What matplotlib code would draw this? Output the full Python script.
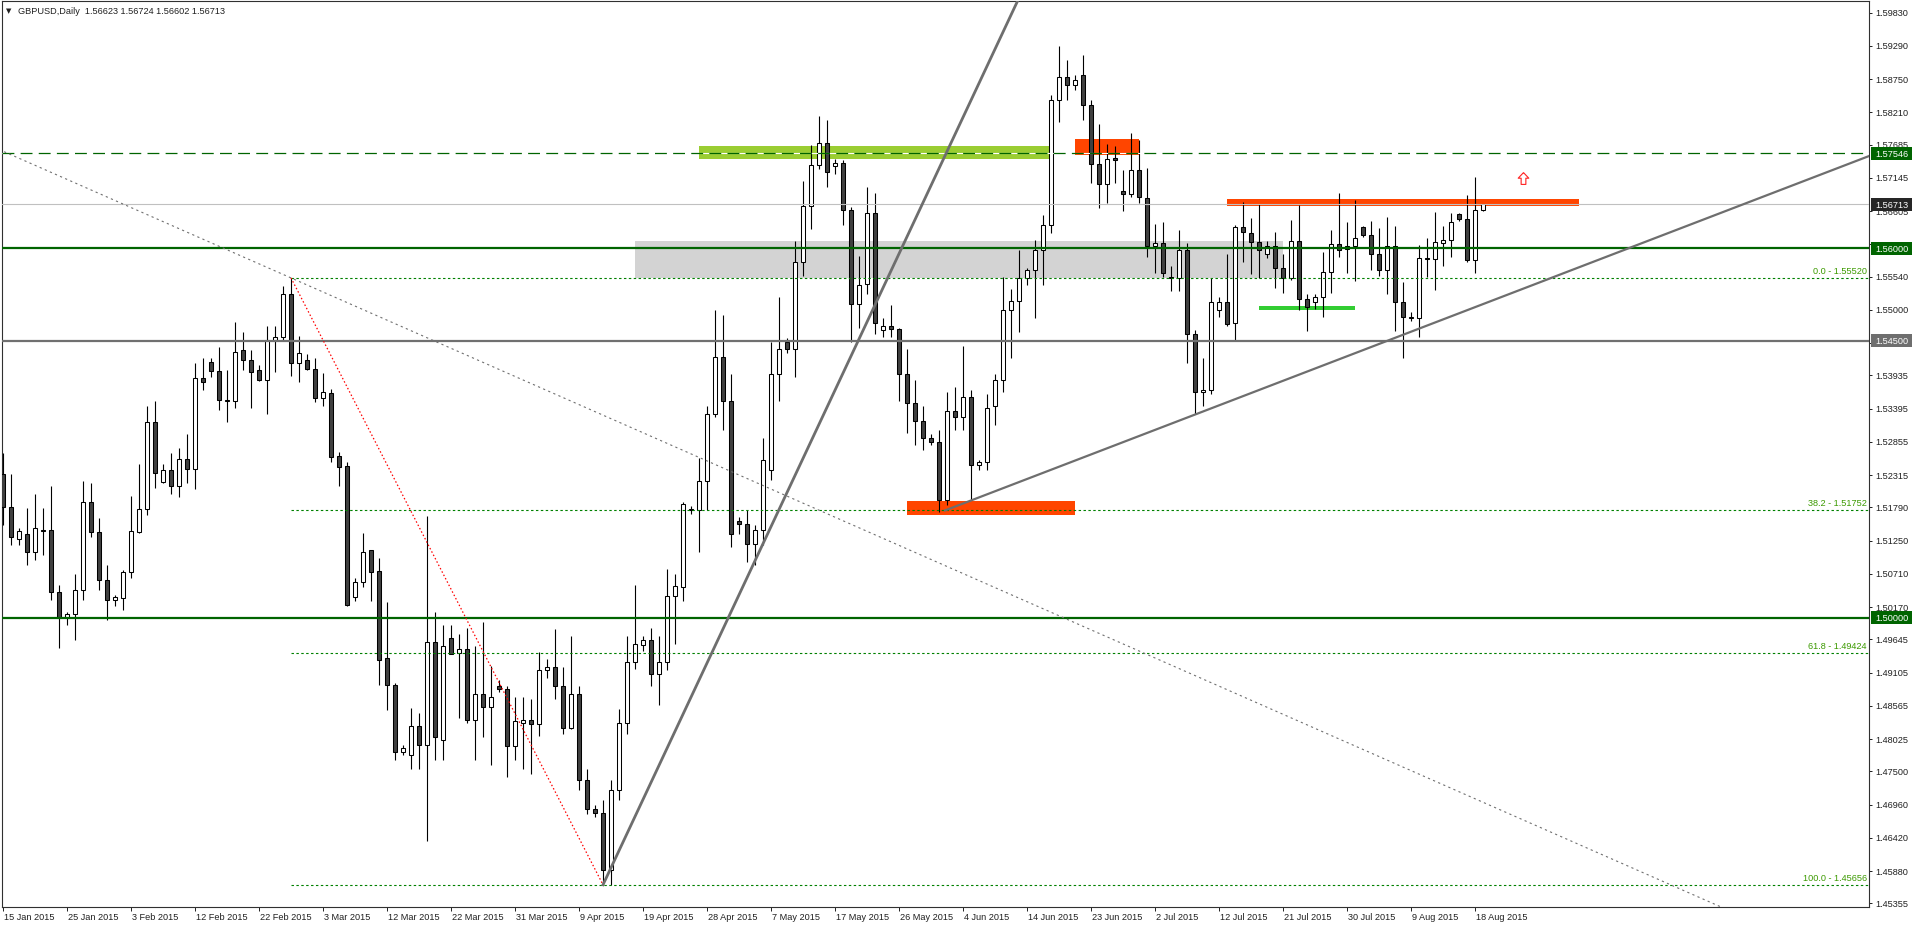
import numpy as np
import pandas as pd
import matplotlib
matplotlib.use("Agg")
import matplotlib.pyplot as plt
from matplotlib.patches import Rectangle
from matplotlib.path import Path
from matplotlib.transforms import blended_transform_factory

plt.rcParams['font.family'] = ['Liberation Sans', 'DejaVu Sans']
FS = 6.6

# daily bars of a broker that also prints Sunday sessions
dates = pd.bdate_range('2015-01-15', '2015-08-19', freq='C',
                       weekmask='Sun Mon Tue Wed Thu Fri')

opens = [1.5234, 1.5180, 1.5127, 1.5136, 1.5107, 1.5143, 1.5143, 1.5042, 1.5000, 1.5006,
         1.5045, 1.5188, 1.5139, 1.5061, 1.5029, 1.5032, 1.5074, 1.5139, 1.5177, 1.5318,
         1.5221, 1.5239, 1.5213, 1.5258, 1.5242, 1.5390, 1.5416, 1.5401, 1.5352, 1.5352,
         1.5435, 1.5419, 1.5403, 1.5386, 1.5451, 1.5456, 1.5526, 1.5414, 1.5419, 1.5404,
         1.5357, 1.5365, 1.5263, 1.5247, 1.5034, 1.5058, 1.5109, 1.5076, 1.4935, 1.4891,
         1.4782, 1.4777, 1.4824, 1.4793, 1.4961, 1.4801, 1.4967, 1.4943, 1.4949, 1.4834,
         1.4876, 1.4855, 1.4888, 1.4883, 1.4791, 1.4829, 1.4834, 1.4827, 1.4915, 1.4920,
         1.4889, 1.4821, 1.4875, 1.4736, 1.4688, 1.4683, 1.4590, 1.4720, 1.4829, 1.4927,
         1.4956, 1.4964, 1.4909, 1.4928, 1.5035, 1.5050, 1.5174, 1.5174, 1.5222, 1.5330,
         1.5424, 1.5352, 1.5157, 1.5152, 1.5120, 1.5143, 1.5240, 1.5395, 1.5447, 1.5437,
         1.5578, 1.5669, 1.5736, 1.5772, 1.5734, 1.5739, 1.5663, 1.5510, 1.5542, 1.5658,
         1.5468, 1.5473, 1.5469, 1.5395, 1.5349, 1.5320, 1.5292, 1.5286, 1.5191, 1.5336,
         1.5326, 1.5359, 1.5248, 1.5253, 1.5343, 1.5386, 1.5500, 1.5515, 1.5551, 1.5565,
         1.5598, 1.5638, 1.5841, 1.5879, 1.5866, 1.5882, 1.5833, 1.5737, 1.5705, 1.5747,
         1.5694, 1.5689, 1.5728, 1.5682, 1.5603, 1.5609, 1.5554, 1.5551, 1.5598, 1.5461,
         1.5367, 1.5370, 1.5500, 1.5513, 1.5479, 1.5635, 1.5625, 1.5611, 1.5590, 1.5603,
         1.5568, 1.5552, 1.5612, 1.5518, 1.5512, 1.5521, 1.5562, 1.5607, 1.5599, 1.5603,
         1.5635, 1.5622, 1.5590, 1.5564, 1.5603, 1.5512, 1.5487, 1.5487, 1.5585, 1.5583,
         1.5609, 1.5614, 1.5656, 1.5648, 1.5581, 1.56623]
highs = [1.5268, 1.5234, 1.5146, 1.5178, 1.5200, 1.5178, 1.5213, 1.5053, 1.5009, 1.5070,
         1.5222, 1.5219, 1.5162, 1.5086, 1.5037, 1.5078, 1.5198, 1.5250, 1.5343, 1.5352,
         1.5250, 1.5268, 1.5276, 1.5299, 1.5414, 1.5422, 1.5422, 1.5440, 1.5403, 1.5481,
         1.5464, 1.5434, 1.5411, 1.5474, 1.5474, 1.5538, 1.5552, 1.5458, 1.5429, 1.5421,
         1.5398, 1.5372, 1.5269, 1.5252, 1.5065, 1.5138, 1.5110, 1.5096, 1.5026, 1.4894,
         1.4793, 1.4853, 1.4845, 1.5165, 1.5009, 1.4988, 1.4988, 1.4974, 1.4983, 1.4954,
         1.4993, 1.4922, 1.4899, 1.4889, 1.4871, 1.4871, 1.4868, 1.4944, 1.4933, 1.4982,
         1.4920, 1.4970, 1.4888, 1.4753, 1.4696, 1.4704, 1.4736, 1.4852, 1.4970, 1.5053,
         1.4970, 1.4983, 1.4970, 1.5079, 1.5070, 1.5188, 1.5182, 1.5260, 1.5343, 1.5499,
         1.5492, 1.5396, 1.5164, 1.5175, 1.5151, 1.5291, 1.5448, 1.5521, 1.5455, 1.5612,
         1.5710, 1.5768, 1.5815, 1.5809, 1.5746, 1.5744, 1.5668, 1.5588, 1.5700, 1.5690,
         1.5486, 1.5508, 1.5471, 1.5437, 1.5386, 1.5343, 1.5299, 1.5304, 1.5367, 1.5375,
         1.5442, 1.5370, 1.5256, 1.5364, 1.5395, 1.5554, 1.5534, 1.5598, 1.5568, 1.5614,
         1.5655, 1.5850, 1.5929, 1.5906, 1.5882, 1.5915, 1.5841, 1.5802, 1.5770, 1.5767,
         1.5728, 1.5788, 1.5776, 1.5731, 1.5640, 1.5643, 1.5572, 1.5629, 1.5609, 1.5468,
         1.5421, 1.5551, 1.5521, 1.5590, 1.5638, 1.5676, 1.5650, 1.5672, 1.5612, 1.5627,
         1.5590, 1.5646, 1.5671, 1.5526, 1.5525, 1.5594, 1.5629, 1.5690, 1.5643, 1.5679,
         1.5637, 1.5645, 1.5633, 1.5651, 1.5637, 1.5546, 1.5497, 1.5606, 1.5617, 1.5659,
         1.5637, 1.5658, 1.5658, 1.5687, 1.5716, 1.56724]
lows = [1.5151, 1.5118, 1.5118, 1.5086, 1.5094, 1.5102, 1.5029, 1.4951, 1.4988, 1.4964,
        1.5029, 1.5131, 1.5045, 1.4996, 1.5019, 1.5013, 1.5065, 1.5138, 1.5167, 1.5211,
        1.5219, 1.5200, 1.5196, 1.5219, 1.5209, 1.5369, 1.5391, 1.5338, 1.5317, 1.5341,
        1.5403, 1.5341, 1.5385, 1.5331, 1.5399, 1.5451, 1.5393, 1.5383, 1.5403, 1.5351,
        1.5343, 1.5252, 1.5213, 1.5019, 1.5027, 1.5050, 1.5027, 1.4891, 1.4849, 1.4769,
        1.4777, 1.4753, 1.4753, 1.4637, 1.4769, 1.4769, 1.4940, 1.4837, 1.4829, 1.4769,
        1.4806, 1.4761, 1.4879, 1.4740, 1.4769, 1.4753, 1.4745, 1.4808, 1.4902, 1.4868,
        1.4811, 1.4819, 1.4720, 1.4680, 1.4675, 1.4566, 1.4566, 1.4704, 1.4811, 1.4917,
        1.4946, 1.4888, 1.4857, 1.4914, 1.4957, 1.5027, 1.5169, 1.5107, 1.5175, 1.5326,
        1.5304, 1.5115, 1.5135, 1.5091, 1.5086, 1.5118, 1.5224, 1.5352, 1.5430, 1.5391,
        1.5555, 1.5632, 1.5729, 1.5700, 1.5721, 1.5638, 1.5447, 1.5471, 1.5525, 1.5460,
        1.5456, 1.5456, 1.5352, 1.5300, 1.5281, 1.5273, 1.5281, 1.5172, 1.5183, 1.5304,
        1.5304, 1.5191, 1.5240, 1.5240, 1.5313, 1.5367, 1.5421, 1.5464, 1.5541, 1.5486,
        1.5541, 1.5625, 1.5806, 1.5841, 1.5858, 1.5809, 1.5707, 1.5666, 1.5674, 1.5707,
        1.5661, 1.5684, 1.5674, 1.5586, 1.5560, 1.5554, 1.5531, 1.5531, 1.5414, 1.5330,
        1.5343, 1.5364, 1.5489, 1.5474, 1.5450, 1.5577, 1.5559, 1.5552, 1.5585, 1.5536,
        1.5528, 1.5549, 1.5499, 1.5466, 1.5502, 1.5489, 1.5528, 1.5586, 1.5560, 1.5547,
        1.5619, 1.5564, 1.5555, 1.5525, 1.5466, 1.5422, 1.5482, 1.5456, 1.5554, 1.5533,
        1.5572, 1.5586, 1.5645, 1.5577, 1.5560, 1.56602]
closes = [1.5180, 1.5131, 1.5141, 1.5107, 1.5146, 1.5141, 1.5042, 1.5000, 1.5006, 1.5045,
          1.5188, 1.5139, 1.5061, 1.5029, 1.5034, 1.5074, 1.5141, 1.5177, 1.5318, 1.5235,
          1.5239, 1.5213, 1.5258, 1.5242, 1.5390, 1.5382, 1.5401, 1.5354, 1.5354, 1.5432,
          1.5419, 1.5399, 1.5386, 1.5451, 1.5456, 1.5526, 1.5414, 1.5430, 1.5404, 1.5357,
          1.5367, 1.5261, 1.5245, 1.5021, 1.5058, 1.5107, 1.5074, 1.4931, 1.4891, 1.4782,
          1.4788, 1.4824, 1.4793, 1.4961, 1.4805, 1.4953, 1.4941, 1.4949, 1.4834, 1.4876,
          1.4855, 1.4870, 1.4883, 1.4791, 1.4831, 1.4834, 1.4827, 1.4915, 1.4920, 1.4889,
          1.4821, 1.4876, 1.4736, 1.4688, 1.4683, 1.4590, 1.4720, 1.4829, 1.4927, 1.4957,
          1.4964, 1.4909, 1.4928, 1.5035, 1.5052, 1.5185, 1.5177, 1.5222, 1.5330, 1.5424,
          1.5352, 1.5135, 1.5152, 1.5120, 1.5143, 1.5256, 1.5395, 1.5437, 1.5437, 1.5577,
          1.5669, 1.5736, 1.5772, 1.5724, 1.5739, 1.5663, 1.5510, 1.5541, 1.5658, 1.5479,
          1.5473, 1.5469, 1.5395, 1.5349, 1.5320, 1.5292, 1.5286, 1.5191, 1.5336, 1.5326,
          1.5359, 1.5248, 1.5253, 1.5341, 1.5386, 1.5500, 1.5515, 1.5552, 1.5565, 1.5598,
          1.5638, 1.5841, 1.5879, 1.5866, 1.5874, 1.5833, 1.5737, 1.5705, 1.5746, 1.5744,
          1.5689, 1.5728, 1.5684, 1.5603, 1.5609, 1.5560, 1.5551, 1.5598, 1.5461, 1.5367,
          1.5370, 1.5512, 1.5513, 1.5477, 1.5635, 1.5627, 1.5611, 1.5598, 1.5603, 1.5568,
          1.5552, 1.5612, 1.5518, 1.5505, 1.5521, 1.5562, 1.5607, 1.5598, 1.5603, 1.5616,
          1.5622, 1.5590, 1.5564, 1.5603, 1.5512, 1.5489, 1.5488, 1.5585, 1.5583, 1.5611,
          1.5614, 1.5643, 1.5648, 1.5581, 1.5663, 1.56713]

# horizontal levels drawn on the chart
level_dashed = 1.57546
level_bid = 1.56713
levels_solid = [(1.56000, '#006400'), (1.54500, '#707070'), (1.50000, '#006400')]

# fibonacci retracement from the February high to the April low
fib_high_bar, fib_high = 36, 1.55520
fib_low_bar, fib_low = 75, 1.45656
fib_ratios = [0.0, 38.2, 61.8, 100.0]

# trend lines: (bar, price) anchors
trend_dotted = [(-0.375, 1.5760), (214.5, 1.4531)]
trend_steep = [(75, 1.45656), (123.25, 1.5903)]
trend_rising = [(117.75, 1.5174), (233.25, 1.5750)]

# rectangles: bar from, bar to, price low, price high, colour
boxes = [(79, 160, 1.5552, 1.5612, '#d3d3d3'),
         (87, 130.75, 1.57452, 1.57663, '#9acd32'),
         (134, 142, 1.5751, 1.5777, '#ff4500'),
         (153, 197, 1.5669, 1.5681, '#ff4500'),
         (113, 134, 1.5167, 1.5190, '#ff4500'),
         (157, 169, 1.5499, 1.5507, '#32cd32')]

arrow_bar, arrow_price = 190, 1.5714

yticks = [1.59830, 1.59290, 1.58750, 1.58210, 1.57685, 1.57145, 1.56605, 1.56065,
          1.55540, 1.55000, 1.54460, 1.53935, 1.53395, 1.52855, 1.52315, 1.51790,
          1.51250, 1.50710, 1.50170, 1.49645, 1.49105, 1.48565, 1.48025, 1.47500,
          1.46960, 1.46420, 1.45880, 1.45355]

W, H = 1912, 925
fig = plt.figure(figsize=(W / 100, H / 100), dpi=100)
ax = fig.add_axes([2 / W, 18 / H, 1867 / W, 906 / H])
ax.set_xlim(-0.125, 233.25)
ax.set_ylim(1.45295, 1.60020)

x = np.arange(len(dates))
o = np.array(opens); h = np.array(highs); l = np.array(lows); c = np.array(closes)
up = c >= o

for b0, b1, p0, p1, col in boxes:
    ax.add_patch(Rectangle((b0, p0), b1 - b0, p1 - p0, facecolor=col,
                           edgecolor='none', zorder=1))

ax.vlines(x, l, h, color='black', linewidth=0.8, zorder=2.9)
body_h = np.maximum(np.abs(c - o), 0.00002)
ax.bar(x, body_h, bottom=np.minimum(o, c), width=0.56,
       color=np.where(up, 'white', '#404040'), edgecolor='black',
       linewidth=0.75, zorder=3)

# levels
ax.axhline(level_bid, color='#c0c0c0', linewidth=0.8, zorder=4)
ax.axhline(level_dashed, color='white', linewidth=0.8, zorder=4)
ax.axhline(level_dashed, color='#006400', linewidth=0.9, zorder=4.1,
           dashes=(9.5, 5))
for price, col in levels_solid:
    ax.axhline(price, color=col, linewidth=1.6, zorder=4)

fib_col = '#008000'
for r in fib_ratios:
    p = fib_high - (fib_high - fib_low) * r / 100
    ax.plot([fib_high_bar, 240], [p, p], color=fib_col, linewidth=0.8,
            dashes=(2.2, 2.2), zorder=4)
    ax.annotate(f'{r:.1f} - {p:.5f}', xy=(1, p), xycoords=('axes fraction', 'data'),
                xytext=(-1.5, 1.5), textcoords='offset points', ha='right',
                va='bottom', fontsize=FS, color='#3c9a00', zorder=6)
ax.plot([fib_high_bar, fib_low_bar], [fib_high, fib_low], color='red',
        linewidth=0.9, dashes=(1.2, 1.8), zorder=4.5)


def ray(anchors, x_from, x_to):
    (xa, ya), (xb, yb) = anchors
    k = (yb - ya) / (xb - xa)
    return [x_from, x_to], [ya + k * (x_from - xa), ya + k * (x_to - xa)]


xs, ys = ray(trend_dotted, -5, 260)
ax.plot(xs, ys, color='#707070', linewidth=0.8, dashes=(2, 3), zorder=4.5)
xs, ys = ray(trend_steep, trend_steep[0][0], 150)
ax.plot(xs, ys, color='#6e6e6e', linewidth=2.0, zorder=5)
xs, ys = ray(trend_rising, trend_rising[0][0], 260)
ax.plot(xs, ys, color='#6e6e6e', linewidth=1.6, zorder=5)

arrow = Path([(0, 1), (0.9, 0.05), (0.4, 0.05), (0.4, -1), (-0.4, -1),
              (-0.4, 0.05), (-0.9, 0.05), (0, 1)])
ax.plot([arrow_bar], [arrow_price], marker=arrow, markersize=8.5,
        markerfacecolor='white', markeredgecolor='#ff2020',
        markeredgewidth=0.8, linestyle='none', zorder=6)

# axes look
for s in ax.spines.values():
    s.set_color('#303030')
    s.set_linewidth(0.8)
ax.yaxis.tick_right()
ax.set_yticks(yticks)
ax.set_yticklabels([f'{v:.5f}' for v in yticks])
ax.tick_params(axis='y', length=2.4, width=0.7, pad=2.2, labelsize=FS,
               colors='#202020')
ticks_x = x[::8]
ax.set_xticks(ticks_x)
ax.set_xticklabels([])
ax.tick_params(axis='x', length=3.2, width=0.7, colors='#202020')
tr = blended_transform_factory(ax.transData, ax.transAxes)
for xi in ticks_x:
    d = dates[xi]
    ax.text(xi + 0.15, -12.5 / 906, f'{d.day} {d.strftime("%b %Y")}', transform=tr,
            ha='left', va='baseline', fontsize=FS, color='#202020', clip_on=False)

# price boxes on the right scale
trb = blended_transform_factory(ax.transAxes, ax.transData)
half = 6.7 / 6152.7
tags = [(level_dashed, '#006400'), (level_bid, '#262626'), (1.56000, '#006400'),
        (1.54500, '#6e6e6e'), (1.50000, '#006400')]
for price, col in tags:
    ax.add_patch(Rectangle((1 + 2 / 1867, price - half), 45 / 1867, 2 * half,
                           transform=trb, facecolor=col, edgecolor='none',
                           clip_on=False, zorder=7))
    ax.text(1 + 6.7 / 1867, price, f'{price:.5f}', transform=trb, color='white',
            fontsize=FS, va='center_baseline', ha='left', clip_on=False, zorder=8)

fig.text(6 / W, 1 - 13.5 / H, '\u25bc', fontsize=5, family='DejaVu Sans',
         color='#202020', va='baseline')
fig.text(18 / W, 1 - 14.5 / H, 'GBPUSD,Daily  1.56623 1.56724 1.56602 1.56713',
         fontsize=FS, color='#202020', va='baseline')

fig.savefig('out.png', dpi=100, facecolor='white')
